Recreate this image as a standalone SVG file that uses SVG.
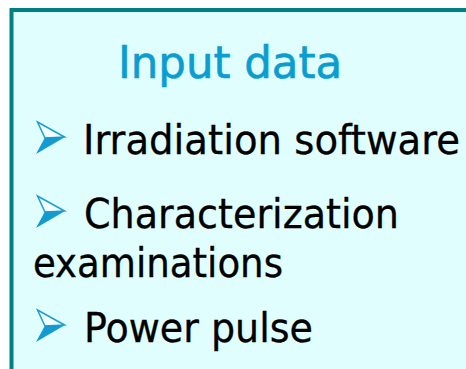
<svg xmlns="http://www.w3.org/2000/svg" xmlns:xlink="http://www.w3.org/1999/xlink" width="466" height="369" viewBox="0 0 466 369">
<style>
.title{font-family:"DejaVu Sans Condensed","DejaVu Sans","Liberation Sans",sans-serif;font-size:44px;fill:#0b9dcf;stroke:#0b9dcf;stroke-width:0.6}
.item{font-family:"DejaVu Sans Condensed","DejaVu Sans","Liberation Sans",sans-serif;font-size:40px;fill:#000;stroke:#000;stroke-width:0.3}
.au{fill:#f2feff;stroke:#1b9fd3;stroke-width:1.5;stroke-linejoin:miter}
.al{fill:#139ad1}
</style>
<defs>
<g id="bullet">
<polygon class="au" points="37.5,-32 64.5,-17 45,-16"/>
<polygon class="al" points="45,-16.5 65,-17 36,0"/>
</g>
</defs>
<rect x="0" y="0" width="466" height="369" fill="#ffffff"/>
<g id="box">
<rect x="11" y="10" width="455" height="359" fill="#e0fefe"/>
<path d="M11.5,369 V10 H466" fill="none" stroke="#008080" stroke-width="4"/>
</g>
<g id="title">
<text class="title" x="118" y="77.5" textLength="224" lengthAdjust="spacingAndGlyphs">Input data</text>
</g>
<g id="item1">
<use xlink:href="#bullet" transform="translate(0,154)"/>
<text class="item" x="83" y="154" textLength="377" lengthAdjust="spacingAndGlyphs">Irradiation software</text>
</g>
<g id="item2">
<use xlink:href="#bullet" transform="translate(0,228)"/>
<text class="item" x="84" y="228" textLength="315" lengthAdjust="spacingAndGlyphs">Characterization</text>
<text class="item" x="33" y="277" textLength="250" lengthAdjust="spacingAndGlyphs">examinations</text>
</g>
<g id="item3">
<use xlink:href="#bullet" transform="translate(0,342)"/>
<text class="item" x="84" y="342" textLength="229" lengthAdjust="spacingAndGlyphs">Power pulse</text>
</g>
</svg>
